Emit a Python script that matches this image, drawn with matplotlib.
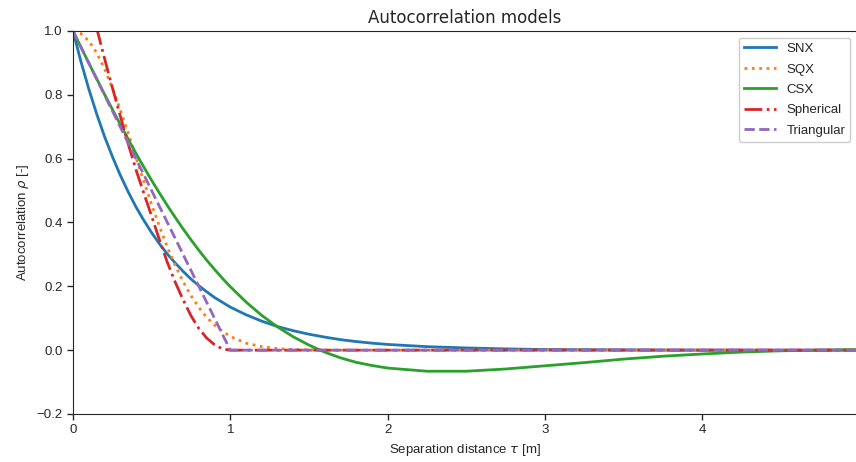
import matplotlib
matplotlib.use("Agg")
import matplotlib.pyplot as plt

# separation distance grid [m]
tau = [
    0.00, 0.05, 0.10, 0.15, 0.20, 0.25, 0.30, 0.35, 0.40, 0.45,
    0.50, 0.55, 0.60, 0.65, 0.70, 0.75, 0.80, 0.85, 0.90, 0.95,
    1.00, 1.10, 1.20, 1.30, 1.40, 1.50, 1.60, 1.70, 1.80, 1.90,
    2.00, 2.25, 2.50, 2.75, 3.00, 3.25, 3.50, 3.75, 4.00, 4.25,
    4.50, 4.75, 5.00,
]

rho_snx = [
    1.000, 0.905, 0.819, 0.741, 0.670, 0.607, 0.549, 0.497, 0.449, 0.407,
    0.368, 0.333, 0.301, 0.273, 0.247, 0.223, 0.202, 0.183, 0.165, 0.150,
    0.135, 0.111, 0.091, 0.074, 0.061, 0.050, 0.041, 0.033, 0.027, 0.022,
    0.018, 0.011, 0.007, 0.004, 0.002, 0.0015, 0.001, 0.0006, 0.0003, 0.0002,
    0.0001, 0.0001, 0.000,
]

rho_sqx = [
    1.000, 0.992, 0.969, 0.932, 0.882, 0.822, 0.754, 0.681, 0.605, 0.529,
    0.456, 0.387, 0.323, 0.265, 0.215, 0.171, 0.134, 0.103, 0.079, 0.059,
    0.043, 0.022, 0.011, 0.005, 0.002, 0.001, 0.000, 0.000, 0.000, 0.000,
    0.000, 0.000, 0.000, 0.000, 0.000, 0.000, 0.000, 0.000, 0.000, 0.000,
    0.000, 0.000, 0.000,
]

rho_csx = [
    1.000, 0.950, 0.900, 0.851, 0.802, 0.755, 0.708, 0.662, 0.617, 0.574,
    0.532, 0.492, 0.453, 0.416, 0.380, 0.346, 0.313, 0.282, 0.253, 0.225,
    0.199, 0.151, 0.109, 0.073, 0.042, 0.016, -0.006, -0.024, -0.038, -0.048,
    -0.056, -0.066, -0.066, -0.059, -0.049, -0.039, -0.028, -0.019, -0.012, -0.006,
    -0.002, 0.000, 0.002,
]

rho_sph = [
    1.300, 1.203, 1.106, 1.010, 0.915, 0.823, 0.735, 0.648, 0.566, 0.492,
    0.420, 0.345, 0.275, 0.213, 0.158, 0.108, 0.068, 0.038, 0.017, 0.004,
    0.000, 0.000, 0.000, 0.000, 0.000, 0.000, 0.000, 0.000, 0.000, 0.000,
    0.000, 0.000, 0.000, 0.000, 0.000, 0.000, 0.000, 0.000, 0.000, 0.000,
    0.000, 0.000, 0.000,
]

rho_tri = [
    1.00, 0.95, 0.90, 0.85, 0.80, 0.75, 0.70, 0.65, 0.60, 0.55,
    0.50, 0.45, 0.40, 0.35, 0.30, 0.25, 0.20, 0.15, 0.10, 0.05,
    0.00, 0.00, 0.00, 0.00, 0.00, 0.00, 0.00, 0.00, 0.00, 0.00,
    0.00, 0.00, 0.00, 0.00, 0.00, 0.00, 0.00, 0.00, 0.00, 0.00,
    0.00, 0.00, 0.00,
]

x_ticks = [0, 1, 2, 3, 4]
y_ticks = [-0.2, 0.0, 0.2, 0.4, 0.6, 0.8, 1.0]

DARK = "#262626"
plt.rcParams["font.family"] = ["Liberation Sans", "DejaVu Sans"]
plt.rcParams["axes.edgecolor"] = DARK
plt.rcParams["xtick.color"] = DARK
plt.rcParams["ytick.color"] = DARK
plt.rcParams["text.color"] = DARK
plt.rcParams["axes.labelcolor"] = DARK

fig = plt.figure(figsize=(8.56, 4.62), dpi=100)
ax = fig.add_axes([73 / 856, 1 - 414 / 462, 784 / 856, (414 - 31) / 462])

lw = 2.0
ax.plot(tau, rho_snx, color="#1f77b4", lw=lw, ls="-", label="SNX")
ax.plot(tau, rho_sqx, color="#ff7f0e", lw=lw, ls=":", label="SQX")
ax.plot(tau, rho_csx, color="#2ca02c", lw=lw, ls="-", label="CSX")
ax.plot(tau, rho_sph, color="#d62728", lw=lw, ls="-.", label="Spherical")
ax.plot(tau, rho_tri, color="#9467bd", lw=lw, ls="--", label="Triangular")

ax.set_xlim(0, 4.985)
ax.set_ylim(-0.2, 1.0)
ax.set_xticks(x_ticks)
ax.set_xticklabels([str(t) for t in x_ticks])
ax.set_yticks(y_ticks)
ax.tick_params(labelsize=9.5, length=4, width=1)

ax.set_xlabel(r"Separation distance $\tau$ [m]", fontsize=9.5)
ax.set_ylabel(r"Autocorrelation $\rho$ [-]", fontsize=9.5)
ax.set_title("Autocorrelation models", fontsize=12, family="DejaVu Sans")

ax.legend(loc="upper right", fontsize=9.5, handlelength=2.4,
          labelspacing=0.62, framealpha=1, borderaxespad=0.5)

fig.savefig("out.png", dpi=100)
